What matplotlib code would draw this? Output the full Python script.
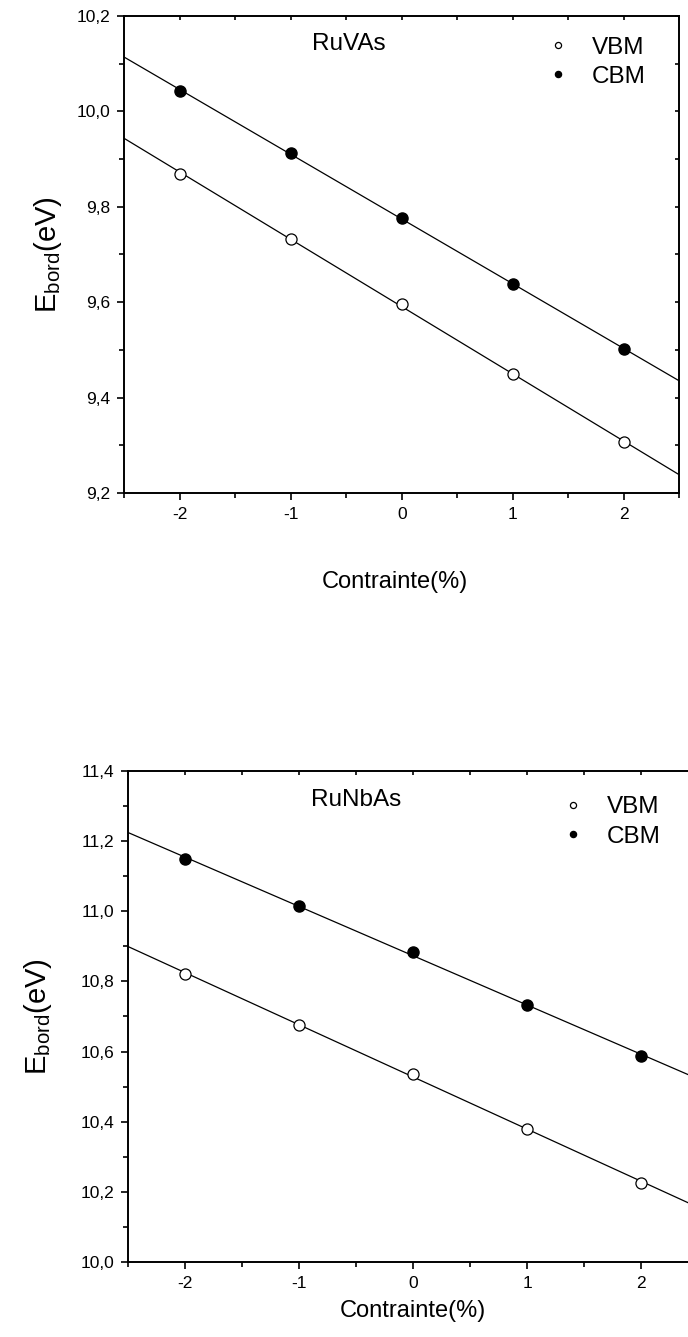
import numpy as np
import matplotlib
matplotlib.use("Agg")
import matplotlib.pyplot as plt
from matplotlib.ticker import MultipleLocator, FuncFormatter

plt.rcParams['font.family'] = ['Liberation Sans', 'DejaVu Sans']

strain = [-2, -1, 0, 1, 2]
ruvas_vbm = [9.869, 9.733, 9.596, 9.450, 9.306]
ruvas_cbm = [10.043, 9.912, 9.777, 9.638, 9.502]
runbas_vbm = [10.820, 10.677, 10.537, 10.380, 10.225]
runbas_cbm = [11.148, 11.016, 10.883, 10.733, 10.587]

titles = ["RuVAs", "RuNbAs"]
ylims = [(9.2, 10.2), (10.0, 11.4)]
xlim = (-2.5, 2.5)

fig = plt.figure(figsize=(6.88, 13.37), dpi=100)
ax1 = fig.add_axes([124.5/688, 1-493/1337, (679-124.5)/688, 477/1337])
ax2 = fig.add_axes([128/688, 1-1262/1337, (698-128)/688, 491/1337])

comma = FuncFormatter(lambda v, p: f"{v:.1f}".replace('.', ','))

configs = [
    (ax1, ruvas_vbm, ruvas_cbm, titles[0], ylims[0], (0.338, 0.941), (0.488, -0.163), (-0.11, 0.5), (0.755, 0.972)),
    (ax2, runbas_vbm, runbas_cbm, titles[1], ylims[1], (0.321, 0.941), (0.5, -0.078), (-0.13, 0.5), (0.755, 0.963)),
]

for ax, vbm, cbm, title, ylim, tpos, xlpos, ylpos, legpos in configs:
    xs = np.array(strain, dtype=float)
    xx = np.array(xlim)
    for series in (vbm, cbm):
        k, b = np.polyfit(xs, series, 1)
        ax.plot(xx, k*xx + b, color='black', lw=0.9, zorder=2)
    ax.plot(strain, vbm, 'o', ms=8, mfc='white', mec='black', mew=0.9, ls='none', label='VBM', zorder=3)
    ax.plot(strain, cbm, 'o', ms=8, mfc='black', mec='black', ls='none', label='CBM', zorder=3)
    ax.set_xlim(*xlim)
    ax.set_ylim(*ylim)
    ax.xaxis.set_major_locator(MultipleLocator(1))
    ax.xaxis.set_minor_locator(MultipleLocator(0.5))
    ax.yaxis.set_major_locator(MultipleLocator(0.2))
    ax.yaxis.set_minor_locator(MultipleLocator(0.1))
    ax.yaxis.set_major_formatter(comma)
    ax.xaxis.set_major_formatter(FuncFormatter(lambda v, p: f"{int(round(v))}"))
    ax.tick_params(which='major', direction='out', length=5, width=1.2, labelsize=12.5, pad=5)
    ax.tick_params(which='minor', direction='out', length=3.5, width=1.2)
    ax.tick_params(which='both', top=True, right=True)
    for s in ax.spines.values():
        s.set_linewidth(1.4)
    ax.text(tpos[0], tpos[1], title, transform=ax.transAxes, fontsize=17.5, ha='left', va='center')
    ax.set_xlabel("Contrainte(%)", fontsize=17)
    ax.xaxis.set_label_coords(*xlpos)
    ax.set_ylabel(r"E$_{\mathregular{bord}}$(eV)", fontsize=21)
    ax.yaxis.set_label_coords(*ylpos)
    leg = ax.legend(loc='upper left', bbox_to_anchor=legpos, frameon=False, fontsize=17.5,
                    markerscale=0.55, handlelength=0.6, handletextpad=1.1, labelspacing=0.3,
                    borderaxespad=0.0, borderpad=0.3)

for ax in (ax1, ax2):
    ax.tick_params(which='both', top=True, right=True, labeltop=False, labelright=False)
    for t in ax.xaxis.get_major_ticks() + ax.xaxis.get_minor_ticks():
        t.tick2line.set_marker(3)
        t.tick2line.set_markersize(3)
    for t in ax.yaxis.get_major_ticks() + ax.yaxis.get_minor_ticks():
        t.tick2line.set_marker(0)
        t.tick2line.set_markersize(3)

fig.savefig("out.png", dpi=100)
